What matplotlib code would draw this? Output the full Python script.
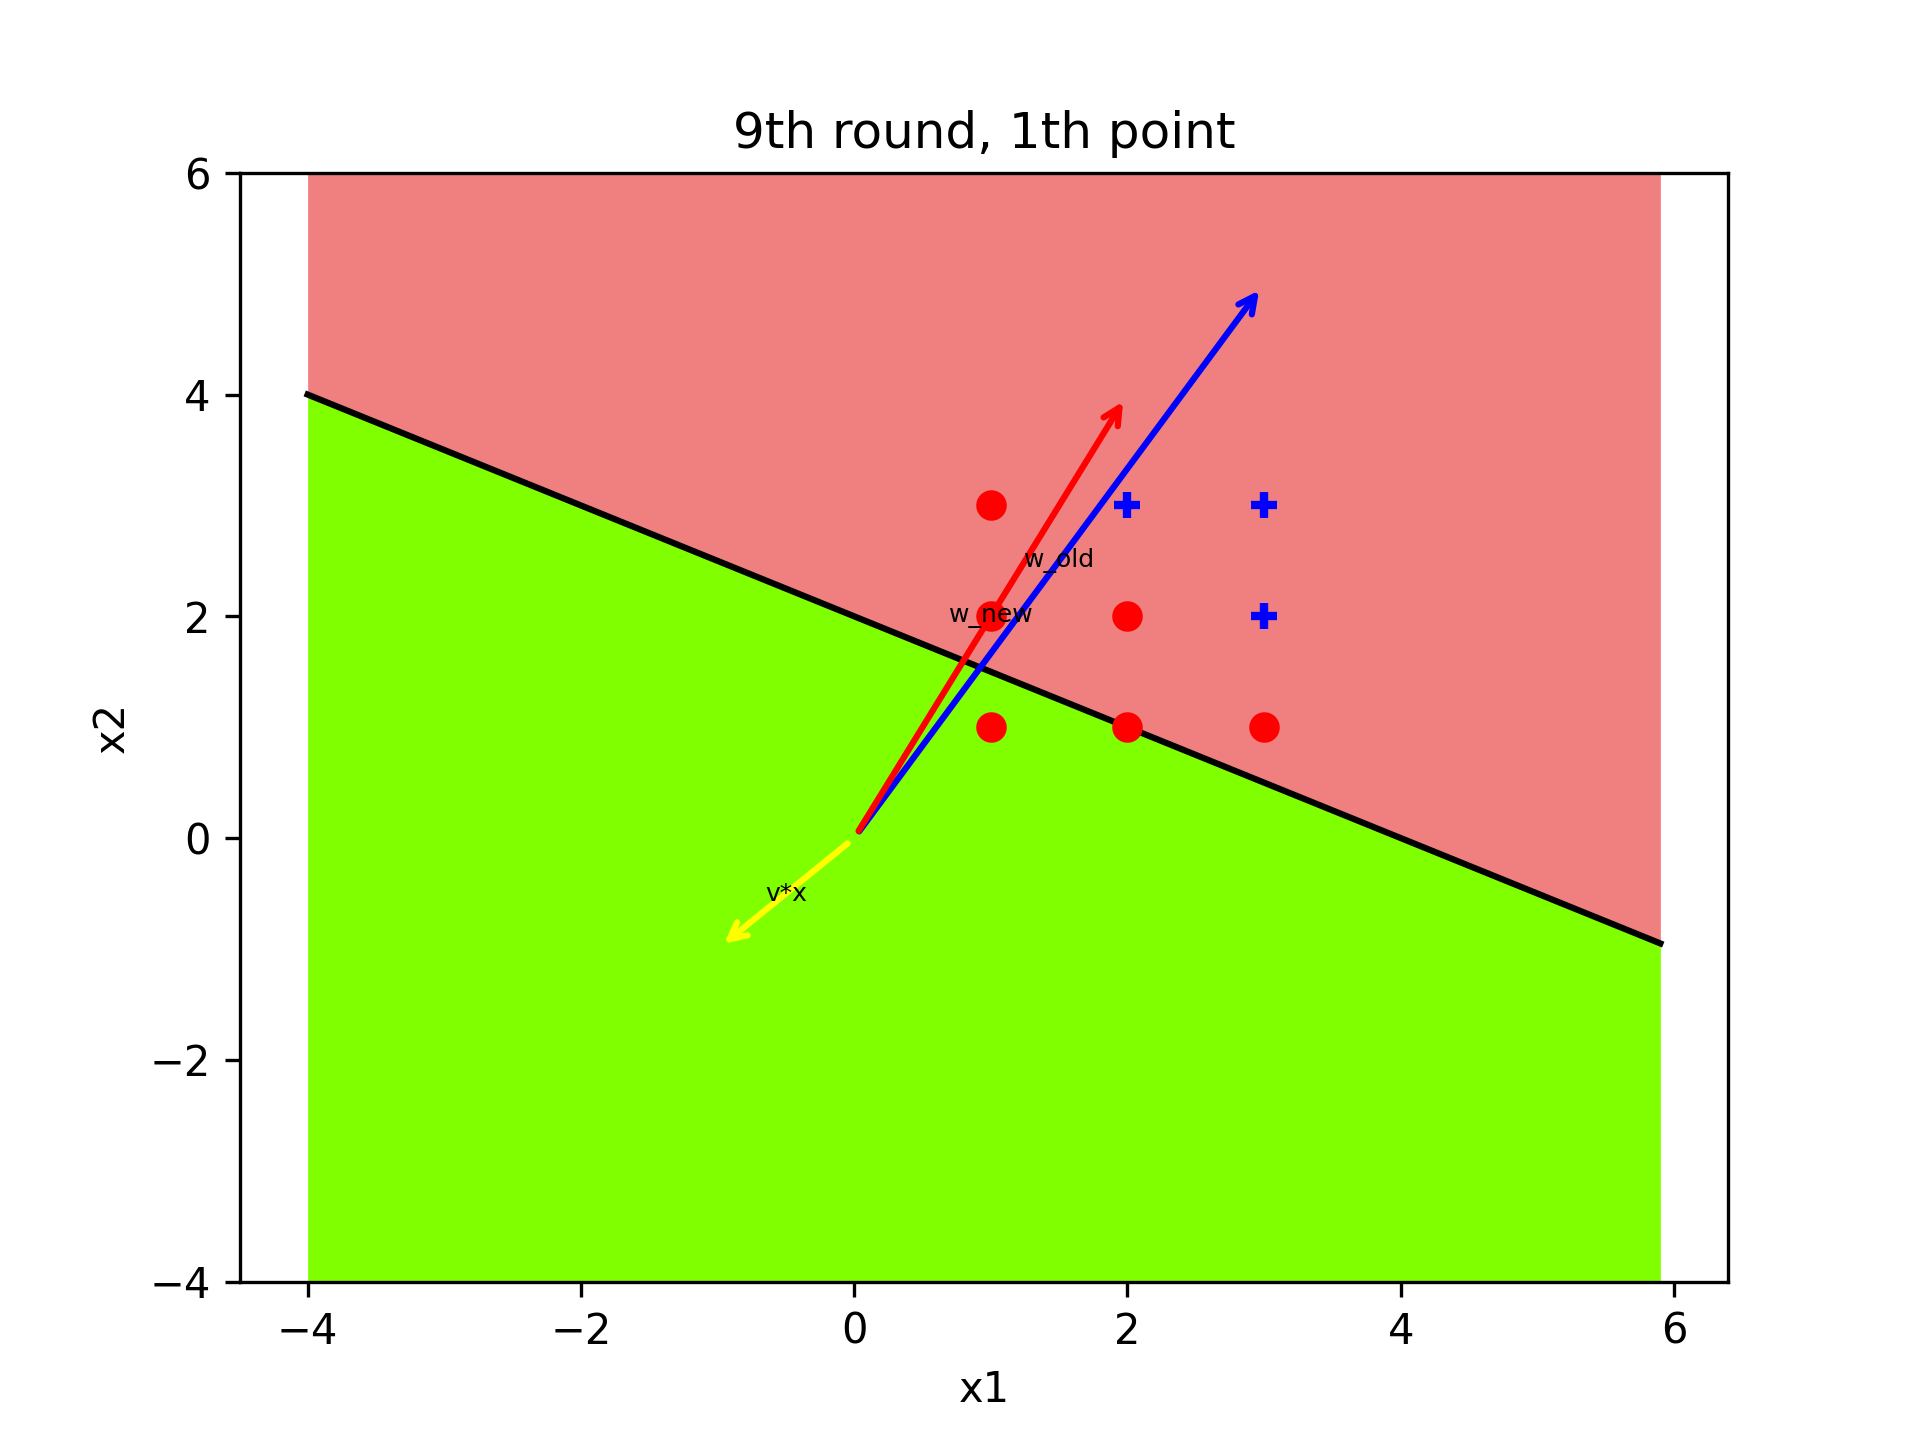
import numpy as np
import matplotlib
matplotlib.use("Agg")
import matplotlib.pyplot as plt

# data
pos_x1 = [2, 3, 3]
pos_x2 = [3, 3, 2]
neg_x1 = [1, 1, 2, 1, 2, 3]
neg_x2 = [3, 2, 2, 1, 1, 1]
w_old = [3, 5]
w_new = [2, 4]
vx = [-1, -1]
grid_x = np.arange(-4, 5.91, 0.1)
line_slope = -0.5
line_icpt = 2.0

fig, ax = plt.subplots(figsize=(6.4, 4.8), dpi=300)
boundary = line_slope * grid_x + line_icpt
ax.fill_between(grid_x, -4, boundary, color="chartreuse", lw=0)
ax.fill_between(grid_x, boundary, 6, color="lightcoral", lw=0)
ax.plot(grid_x, boundary, color="black", lw=1.5)

ax.scatter(neg_x1, neg_x2, c="red", marker="o", s=40, zorder=3)
ax.scatter(pos_x1, pos_x2, c="blue", marker="+", s=40, linewidths=2, zorder=3)

for vec, col, lab in [(w_old, "blue", "w_old"), (w_new, "red", "w_new"), (vx, "yellow", "v*x")]:
    ax.annotate("", xy=vec, xytext=(0, 0),
                arrowprops=dict(arrowstyle="->", color=col, lw=1.5))
    ax.text(vec[0] / 2, vec[1] / 2, lab, fontsize=6, ha="center", va="center", zorder=4)

ax.set_xlim(-4.495, 6.395)
ax.set_ylim(-4, 6)
ax.set_xlabel("x1")
ax.set_ylabel("x2")
ax.set_title("9th round, 1th point")
fig.savefig("out.png")
